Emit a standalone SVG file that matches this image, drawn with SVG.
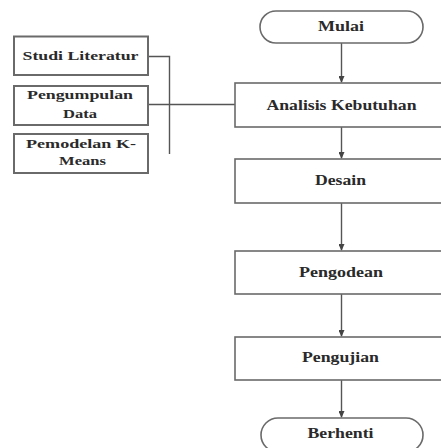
<svg xmlns="http://www.w3.org/2000/svg" width="441" height="448" viewBox="0 0 441 448">
<style>
.box{fill:#fff;stroke:#6a6a6a;stroke-width:1.6}
.sbox{fill:#fff;stroke:#6a6a6a;stroke-width:2}
.t{font-family:"Liberation Serif","Times New Roman",serif;font-weight:bold;font-size:14px;fill:#2a2a2a;text-anchor:middle}
.ts{font-family:"Liberation Serif","Times New Roman",serif;font-weight:bold;font-size:13px;fill:#2a2a2a;text-anchor:middle}
.c{fill:none;stroke:#555;stroke-width:1.4}
</style>
<defs>
<marker id="ah" markerWidth="7" markerHeight="6" refX="6" refY="3" orient="auto" markerUnits="userSpaceOnUse">
<path d="M0,0 L7,3 L0,6 Z" fill="#444"/>
</marker>
</defs>
<rect width="441" height="448" fill="#fff"/>
<g id="connectors">
<line class="c" x1="341.5" y1="43" x2="341.5" y2="82" marker-end="url(#ah)"/>
<line class="c" x1="341.5" y1="127" x2="341.5" y2="158" marker-end="url(#ah)"/>
<line class="c" x1="341.5" y1="203" x2="341.5" y2="250" marker-end="url(#ah)"/>
<line class="c" x1="341.5" y1="294" x2="341.5" y2="336" marker-end="url(#ah)"/>
<line class="c" x1="341.5" y1="380" x2="341.5" y2="417" marker-end="url(#ah)"/>
<polyline class="c" points="148,56.5 169.5,56.5 169.5,154"/>
<line class="c" x1="148" y1="104.5" x2="235" y2="104.5"/>
</g>
<g id="mulai">
<rect class="box" x="260" y="11" width="163" height="32" rx="16"/>
<text class="t" x="341" y="31" textLength="46" lengthAdjust="spacingAndGlyphs">Mulai</text>
</g>
<g id="analisis">
<rect class="box" x="235" y="83" width="215" height="44"/>
<text class="t" x="341.5" y="110" textLength="150" lengthAdjust="spacingAndGlyphs">Analisis Kebutuhan</text>
</g>
<g id="desain">
<rect class="box" x="235" y="159" width="215" height="44"/>
<text class="t" x="340.5" y="185" textLength="51" lengthAdjust="spacingAndGlyphs">Desain</text>
</g>
<g id="pengodean">
<rect class="box" x="235" y="251" width="215" height="43"/>
<text class="t" x="341" y="277" textLength="84" lengthAdjust="spacingAndGlyphs">Pengodean</text>
</g>
<g id="pengujian">
<rect class="box" x="235" y="337" width="215" height="43"/>
<text class="t" x="340.5" y="362" textLength="77" lengthAdjust="spacingAndGlyphs">Pengujian</text>
</g>
<g id="berhenti">
<rect class="box" x="261" y="418" width="162" height="34" rx="17"/>
<text class="t" x="340.5" y="438" textLength="66" lengthAdjust="spacingAndGlyphs">Berhenti</text>
</g>
<g id="studi-literatur">
<rect class="sbox" x="14" y="36.5" width="134" height="38.5"/>
<text class="ts" x="80.5" y="60" textLength="116" lengthAdjust="spacingAndGlyphs">Studi Literatur</text>
</g>
<g id="pengumpulan-data">
<rect class="sbox" x="14" y="86" width="134" height="39"/>
<text class="ts" x="80" y="99" textLength="106" lengthAdjust="spacingAndGlyphs">Pengumpulan</text>
<text class="ts" x="80" y="118" textLength="34" lengthAdjust="spacingAndGlyphs">Data</text>
</g>
<g id="pemodelan-kmeans">
<rect class="sbox" x="14" y="134" width="134" height="39"/>
<text class="ts" x="81" y="148" textLength="110" lengthAdjust="spacingAndGlyphs">Pemodelan K-</text>
<text class="ts" x="82.5" y="165" textLength="47" lengthAdjust="spacingAndGlyphs">Means</text>
</g>
</svg>
